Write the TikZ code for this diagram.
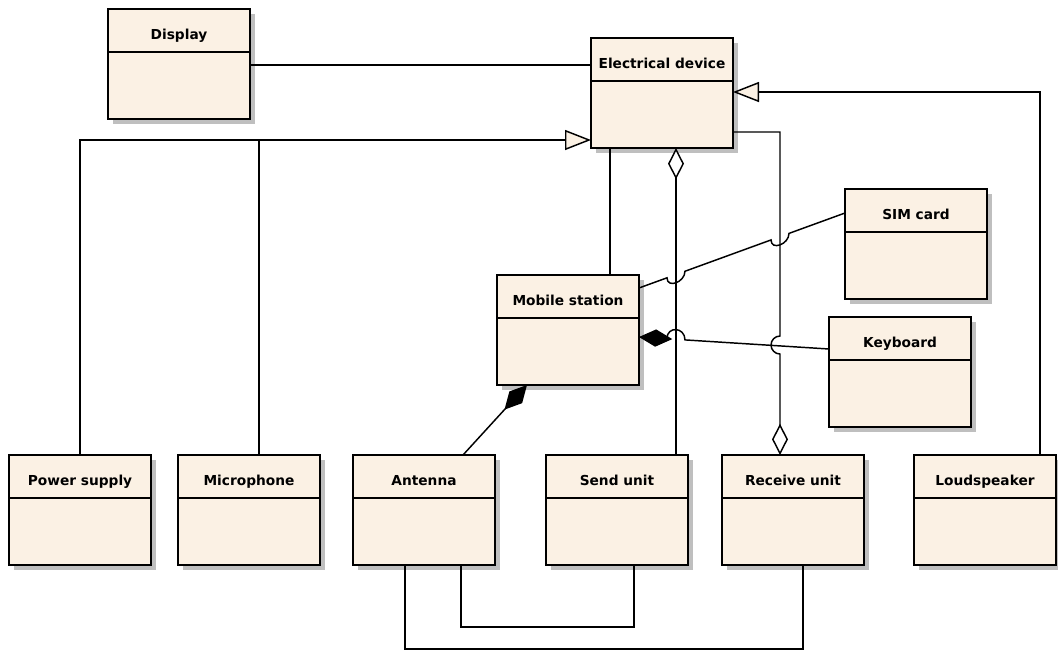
\documentclass[tikz,border=0pt]{standalone}
\usepackage{fontspec}
\setsansfont{DejaVu Sans}
\usepackage{tikz}
\usetikzlibrary{calc}
\usetikzlibrary{arrows.meta}
\usetikzlibrary{shadows}
\definecolor{ClassFill}{RGB}{251,241,228}
\tikzset{
	classbox/.style={draw, line width=1.2pt, fill=ClassFill, minimum width=106.5pt, minimum height=82.5pt, inner sep=0pt, outer sep=0pt,
		drop shadow={shadow xshift=3.75pt, shadow yshift=-3.75pt, fill=black!25, opacity=1}},
	classtitle/.style={font=\sffamily\bfseries\fontsize{10.3}{12}\selectfont, inner sep=0pt, anchor=base},
	classlink/.style={line width=1.1pt},
	generalization/.style={classlink, -{Triangle[open, fill=ClassFill, length=19.5pt, width=15pt]}},
	aggregation/.style={classlink, -{Diamond[open, fill=white, length=23.5pt, width=12pt]}},
	composition/.style={classlink, -{Diamond[length=25pt, width=13pt]}}
}
\newcommand{\classBox}[3]{%
		\node [classbox, anchor=north west] (#1) at #2 {};
		\node [classtitle] (#1-title) at ($(#1.north)+(0,30.5)$) {#3};
		\draw [line width=1pt] ($(#1.north west)+(0,43)$) -- ($(#1.north east)+(0,43)$);
}

\begin{document}
\begin{tikzpicture}[x=0.75pt, y=-0.75pt]
		\useasboundingbox (0,0) rectangle (1058,651);
	
		\classBox{disp}{(108,9)}{Display}
		\classBox{ed}{(591,38)}{Electrical device}
		\classBox{sim}{(845,189)}{SIM card}
		\classBox{ms}{(497,275)}{Mobile station}
		\classBox{kb}{(829,317)}{Keyboard}
		\classBox{ps}{(9,455)}{Power supply}
		\classBox{mic}{(178,455)}{Microphone}
		\classBox{ant}{(353,455)}{Antenna}
		\classBox{su}{(546,455)}{Send unit}
		\classBox{ru}{(722,455)}{Receive unit}
		\classBox{ls}{(914,455)}{Loudspeaker}
		
		\coordinate (edG) at ($(ed.north west)+(0,102)$); %generalization
		\coordinate (micTop) at ($(mic.north)+(10,0)$);
		\coordinate (simA) at ($(ms.north east)+(0,13)$);
		\coordinate (simB) at ($(sim.north west)+(0,24)$);
		\coordinate (kbA) at ($(ms.north east)+(0,62)$);
		\coordinate (kbB) at ($(kb.north west)+(0,32)$);
		
		\draw [classlink] ($(disp.north east)+(0,56)$) -- ($(ed.north west)+(0,27)$);
		\draw [generalization] (ps.north) |- (edG);
		\draw [classlink] (micTop) -- (micTop |- edG);
		\draw [generalization] ($(ls.north east)+(-16,0)$) |- ($(ed.north east)+(0,54)$);
		\draw [classlink] ($(ed.south west)+(19,0)$) -- ($(ms.north west)+(113,0)$);
		\draw [aggregation] ($(su.north west)+(130,0)$) -- ($(ed.south west)+(85,0)$);
		\draw [aggregation] ($(ed.north east)+(0,94)$) -| ($(ru.north west)+(58,-119)$)
				arc[start angle=270, end angle=90, radius=9] -- ($(ru.north west)+(58,0)$);
		
		\draw [classlink] (simA) -- ($(simA)!0.136!(simB)$) .. controls +(0,11) and +(0,11) .. ($(simA)!0.223!(simB)$)
				-- ($(simA)!0.641!(simB)$) .. controls +(0,11) and +(0,11) .. ($(simA)!0.728!(simB)$) -- (simB);
		\draw [composition] (kbB) -- ($(kbB)!0.758!(kbA)$) .. controls +(0,-13) and +(0,-13) .. ($(kbB)!0.853!(kbA)$) -- (kbA);
		\draw [composition] ($(ant.north west)+(110,0)$) -- ($(ms.south west)+(30,0)$);
		
		\draw [classlink] ($(ant.south west)+(108,0)$) -- ++(0,62) -| ($(su.south west)+(88,0)$);
		\draw [classlink] ($(ant.south west)+(52,0)$) -- ++(0,84) -| ($(ru.south west)+(81,0)$);
	\end{tikzpicture}
\end{document}
